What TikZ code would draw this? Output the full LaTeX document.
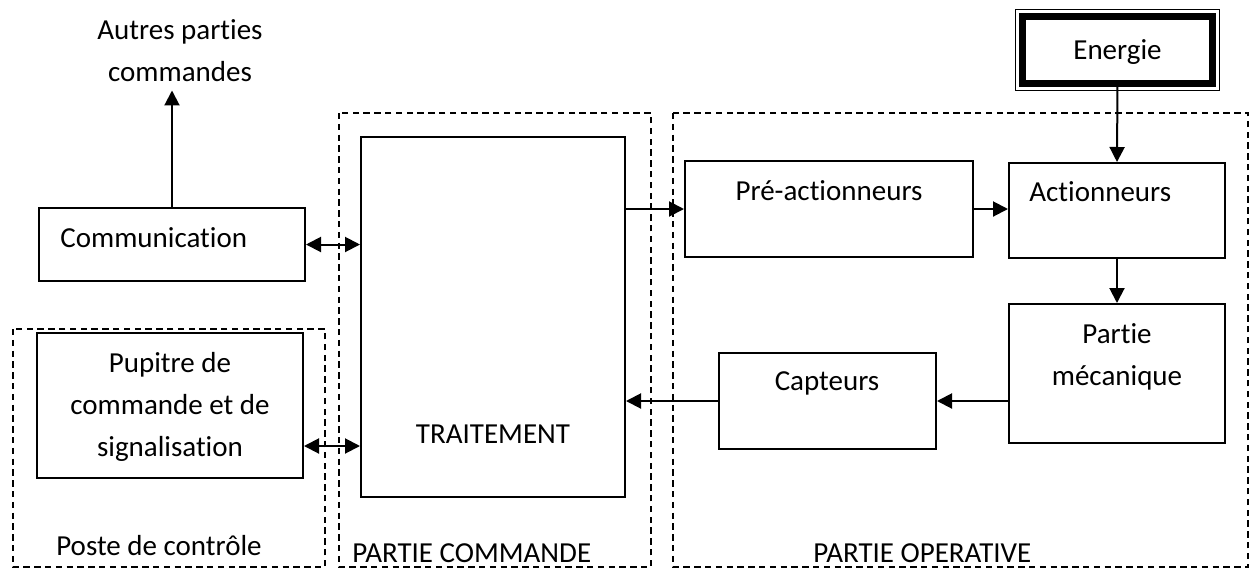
\documentclass[tikz,border=0pt]{standalone}
\usepackage{fontspec}
\setmainfont{Carlito}[Ligatures={NoCommon,NoContextual}]
\usetikzlibrary{arrows.meta}

\begin{document}
\begin{tikzpicture}[x=0.5pt, y=-0.5pt, font=\fontsize{14.5}{21}\selectfont,
    bloc/.style={draw, line width=1pt, inner sep=0pt},
    etiq/.style={inner sep=0pt},
    zone/.style={draw, line width=0.9pt, dash pattern=on 3.2pt off 2.2pt},
    fleche/.style={line width=1pt, -{Triangle[length=7.5pt,width=7.5pt]}},
    dfleche/.style={line width=1pt, {Triangle[length=7.5pt,width=7.5pt]}-{Triangle[length=7.5pt,width=7.5pt]}}]
    \useasboundingbox (0,0) rectangle (1250,569);

    % zones en pointilles
    \draw[zone] (13,329) rectangle (325,567);
    \draw[zone] (339,113) rectangle (651,567);
    \draw[zone] (673,113) rectangle (1248,567);
    \node[etiq, anchor=base] (poste) at (159,555) {Poste de contrôle};
    \node[etiq, anchor=base west] (commande) at (352,562) {PARTIE COMMANDE};
    \node[etiq, anchor=base west] (operative) at (813,562) {PARTIE OPERATIVE};

    % partie commande et poste
    \node[etiq, align=center] (autres) at (180,51) {Autres parties\\commandes};
    \coordinate (autresbas) at ([yshift=-4pt]autres.south);
    \node[bloc, minimum width=133pt, minimum height=36.5pt] (comm) at (172,244.5) {};
    \node[etiq, anchor=base west] (commtxt) at (60,247) {Communication};
    \node[bloc, minimum width=133pt, minimum height=72.5pt] (pupitre) at (170,405.5) {};
    \node[etiq, align=center] (pupitretxt) at (170,406.5) {Pupitre de\\commande et de\\signalisation};
    \node[bloc, minimum width=132pt, minimum height=180pt] (trait) at (493,317) {};
    \node[etiq, anchor=base] (traittxt) at (493,443) {TRAITEMENT};

    % partie operative
    \node[draw, line width=3.5pt, outer sep=0pt, inner sep=0pt, text depth=0pt, minimum width=95pt, minimum height=33.5pt] (energie) at (1117.5,49.5) {Energie};
    \draw[line width=0.5pt] ([shift={(-7,-7)}]energie.north west) rectangle ([shift={(7,7)}]energie.south east);
    \node[bloc, minimum width=144pt, minimum height=48pt] (pre) at (829,209) {};
    \node[etiq, anchor=base] (pretxt) at (829,200) {Pré-actionneurs};
    \node[bloc, minimum width=108pt, minimum height=47.5pt] (act) at (1117,210.5) {};
    \node[etiq, anchor=base west] (acttxt) at (1029,201) {Actionneurs};
    \node[bloc, minimum width=108pt, minimum height=69.5pt] (meca) at (1117,373.5) {};
    \node[etiq, align=center] (mecatxt) at (1117,356.5) {Partie\\mécanique};
    \node[bloc, minimum width=108.5pt, minimum height=48pt] (capt) at (827.5,401) {};
    \node[etiq, anchor=base] (capttxt) at (827,390) {Capteurs};

    % liaisons
    \draw[fleche] (comm.north) -- (comm.north |- autresbas);
    \draw[dfleche] (comm.east) -- (trait.west |- comm.east);
    \draw[dfleche] (pupitre.east |- 0,446) -- (trait.west |- 0,446);
    \draw[fleche] (trait.east |- pre.west) -- (pre.west);
    \draw[fleche] (pre.east) -- (act.west |- pre.east);
    \draw[fleche] (energie.south) -- (act.north);
    \draw[fleche] (act.south) -- (meca.north);
    \draw[fleche] (meca.west |- capt.east) -- (capt.east);
    \draw[fleche] (capt.west) -- (trait.east |- capt.west);
\end{tikzpicture}
\end{document}
